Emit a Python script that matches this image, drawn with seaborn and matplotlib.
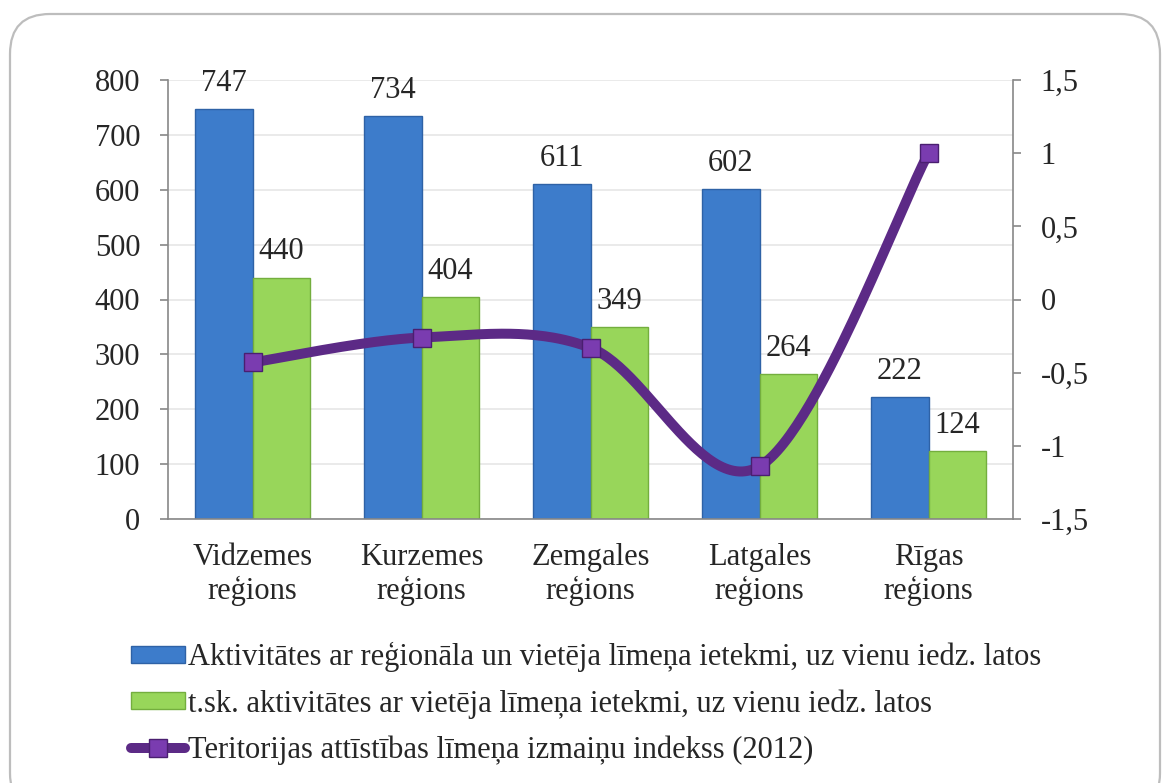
import numpy as np
import pandas as pd
import matplotlib
matplotlib.use("Agg")
import matplotlib.pyplot as plt
import seaborn as sns
from matplotlib.patches import FancyBboxPatch, Patch
from matplotlib.lines import Line2D
from matplotlib.ticker import FixedLocator

# ---------------- data ----------------
regions = ["Vidzemes\nreģions", "Kurzemes\nreģions", "Zemgales\nreģions",
           "Latgales\nreģions", "Rīgas\nreģions"]
series_a_name = "Aktivitātes ar reģionāla un vietēja līmeņa ietekmi, uz vienu iedz. latos"
series_b_name = "t.sk. aktivitātes ar vietēja līmeņa ietekmi, uz vienu iedz. latos"
line_name = "Teritorijas attīstības līmeņa izmaiņu indekss (2012)"
series_a = [747, 734, 611, 602, 222]
series_b = [440, 404, 349, 264, 124]
index_vals = [-0.43, -0.26, -0.33, -1.14, 1.0]
left_ticks = [0, 100, 200, 300, 400, 500, 600, 700, 800]
right_ticks = [-1.5, -1.0, -0.5, 0.0, 0.5, 1.0, 1.5]
right_labels = ["-1,5", "-1", "-0,5", "0", "0,5", "1", "1,5"]

BLUE = "#3D7CCB"
GREEN = "#98D65A"
PURPLE = "#5C2A86"
MARK = "#7A3CB0"

sns.set_style("white")
plt.rcParams['font.family'] = ['Liberation Serif', 'DejaVu Serif']
FS = 22

W, H = 1162, 783
fig = plt.figure(figsize=(W / 100, H / 100), dpi=100)
ax = fig.add_axes([168 / W, 1 - 519 / H, (1013 - 168) / W, (519 - 80) / H])

df = pd.DataFrame({
    "region": regions * 2,
    "value": series_a + series_b,
    "series": [series_a_name] * 5 + [series_b_name] * 5,
})
sns.barplot(data=df, x="region", y="value", hue="series", order=regions,
            hue_order=[series_a_name, series_b_name],
            palette=[BLUE, GREEN], width=0.68, gap=0, ax=ax,
            saturation=1, legend=False, zorder=2)
edge = {0: "#2E62A6", 1: "#74AE3E"}
for i, cont in enumerate(ax.containers):
    for b in cont:
        b.set_edgecolor(edge[i]); b.set_linewidth(1.0)
    ax.bar_label(cont, fmt="%d", padding=8, fontsize=FS)

ax.set_ylim(0, 800)
ax.set_xlim(-0.5, 4.5)
ax.set_yticks(left_ticks)
ax.set_yticklabels([str(t) for t in left_ticks], fontsize=FS)
ax.set_xlabel(""); ax.set_ylabel("")
for lab in ax.get_xticklabels():
    lab.set_linespacing(1.2)
ax.tick_params(axis="x", which="major", length=0, pad=17, labelsize=FS)
ax.xaxis.set_minor_locator(FixedLocator(np.arange(-0.5, 5, 1.0)))
ax.tick_params(axis="x", which="minor", length=6, color="#888888", width=1.2, direction="out")
ax.tick_params(axis="y", length=6, color="#888888", width=1.2, direction="out", pad=14)
ax.grid(axis="y", color="#E6E6E6", linewidth=1.2, zorder=0)
ax.set_axisbelow(True)
for s in ["top", "right"]:
    ax.spines[s].set_visible(False)
for s in ["left", "bottom"]:
    ax.spines[s].set_color("#888888"); ax.spines[s].set_linewidth(1.2)

# ---------------- smooth line (Excel-like smoothing) ----------------
ax2 = ax.twinx()
xs = np.arange(len(index_vals), dtype=float)
ys = np.array(index_vals, dtype=float)
P = np.column_stack([xs, ys])
curve = []
n = len(P)
for i in range(n - 1):
    p0 = P[i - 1] if i > 0 else P[i]
    p1 = P[i]; p2 = P[i + 1]
    p3 = P[i + 2] if i + 2 < n else P[i + 1]
    c1 = p1 + (p2 - p0) / 6.0
    c2 = p2 - (p3 - p1) / 6.0
    t = np.linspace(0, 1, 60)[:, None]
    seg = ((1 - t) ** 3) * p1 + 3 * ((1 - t) ** 2) * t * c1 + 3 * (1 - t) * t ** 2 * c2 + t ** 3 * p2
    curve.append(seg if i == 0 else seg[1:])
curve = np.vstack(curve)
sns.lineplot(x=curve[:, 0], y=curve[:, 1], sort=False, ax=ax2, color=PURPLE,
             linewidth=7.2, estimator=None, zorder=3)
ax2.plot(xs, ys, linestyle="none", marker="s", markersize=12.5,
         markerfacecolor=MARK, markeredgecolor="#4A1F70", markeredgewidth=1, zorder=4)
ax2.set_ylim(-1.5, 1.5)
ax2.set_yticks(right_ticks)
ax2.set_yticklabels(right_labels, fontsize=FS)
ax2.tick_params(axis="y", length=6, color="#888888", width=1.2, direction="out", pad=14)
ax2.grid(False)
ax2.set_ylabel("")
for s in ["top", "left", "bottom"]:
    ax2.spines[s].set_visible(False)
ax2.spines["right"].set_color("#888888"); ax2.spines["right"].set_linewidth(1.2)
ax2.set_xlim(-0.5, 4.5)

# ---------------- legend ----------------
handles = [
    Patch(facecolor=BLUE, edgecolor=edge[0], label=series_a_name),
    Patch(facecolor=GREEN, edgecolor=edge[1], label=series_b_name),
    Line2D([0], [0], color=PURPLE, linewidth=7.2, marker="s", markersize=12.5,
           markerfacecolor=MARK, markeredgecolor="#4A1F70", label=line_name),
]
fig.legend(handles=handles, loc="upper left", bbox_to_anchor=(131 / W, 1 - 642 / H),
           frameon=False, fontsize=FS, handlelength=1.78, handleheight=0.45,
           handletextpad=0.08, labelspacing=0.55, borderaxespad=0, borderpad=0)

# ---------------- outer rounded frame ----------------
frame = FancyBboxPatch((10 / W, -30 / H), 1150 / W, (H + 30 - 14) / H,
                       boxstyle="round,pad=0,rounding_size=%f" % (40 / W),
                       mutation_aspect=W / H,
                       transform=fig.transFigure, facecolor="none",
                       edgecolor="#BDBDBD", linewidth=1.6)
fig.patches.append(frame)

fig.savefig("out.png", dpi=100)
